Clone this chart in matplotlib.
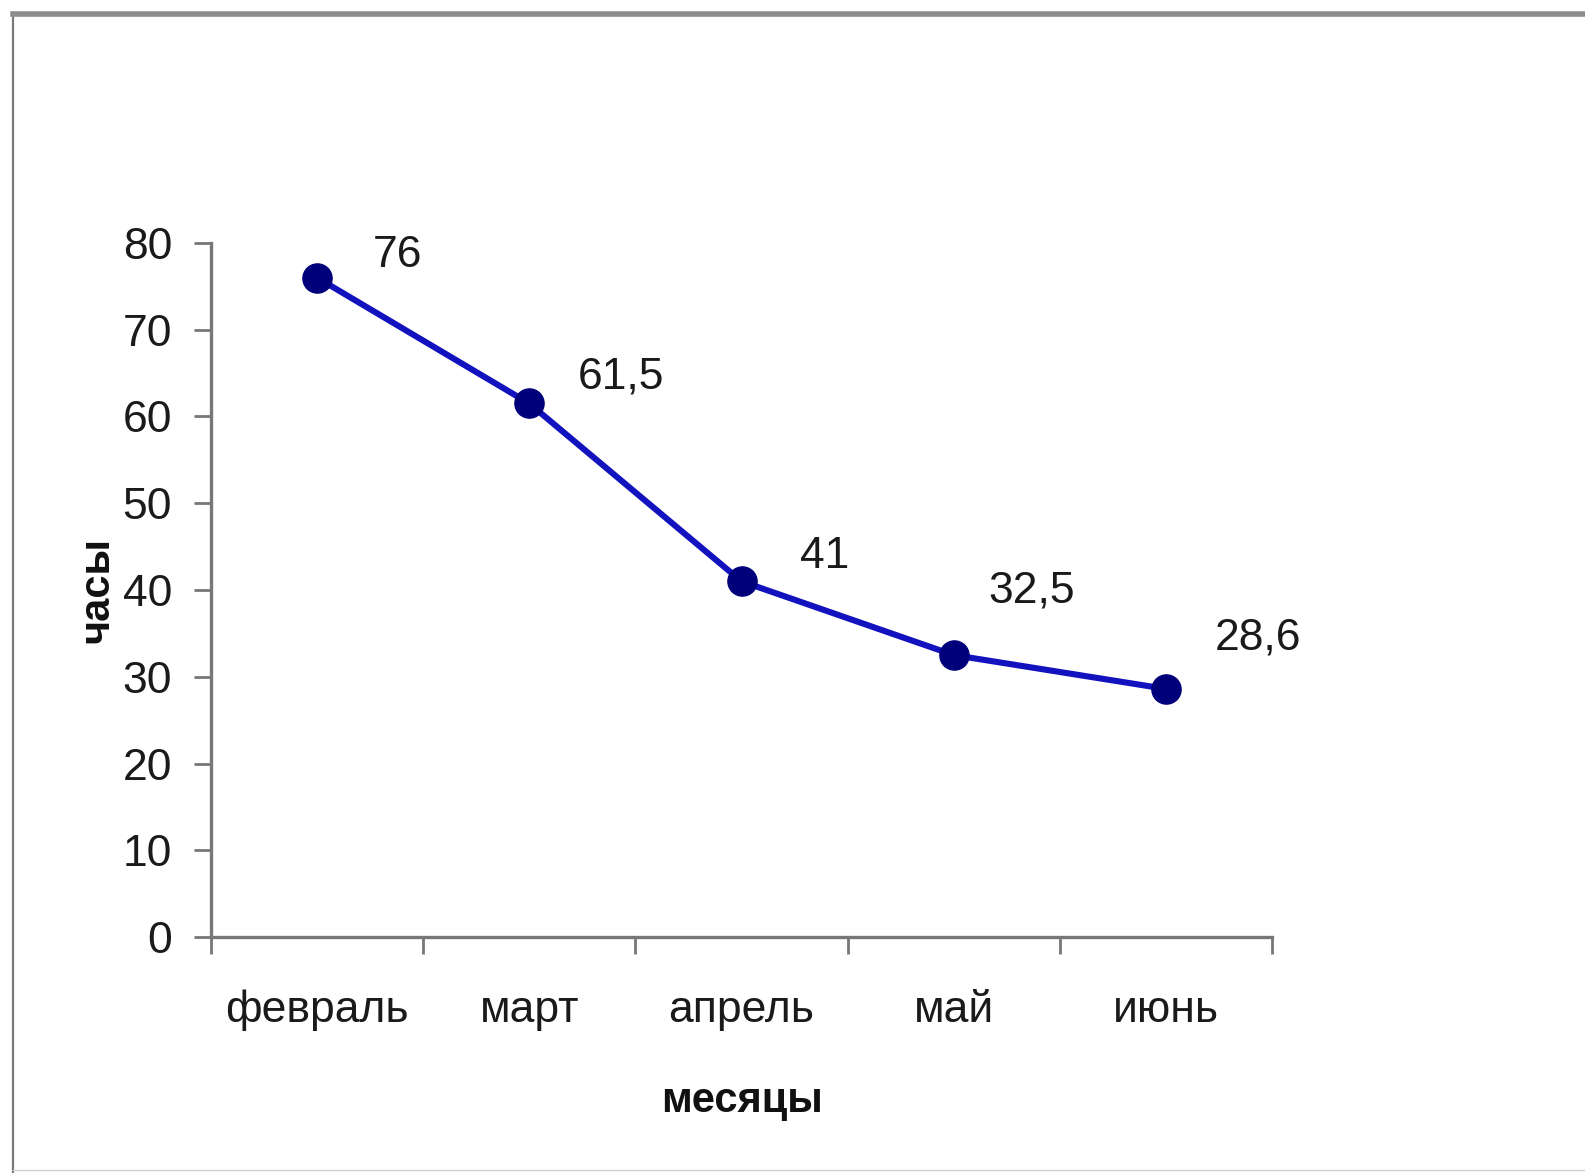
import matplotlib
matplotlib.use("Agg")
import matplotlib.pyplot as plt
from matplotlib.lines import Line2D

months = ["февраль", "март", "апрель", "май", "июнь"]
hours = [76, 61.5, 41, 32.5, 28.6]
hour_labels = ["76", "61,5", "41", "32,5", "28,6"]
y_ticks = [0, 10, 20, 30, 40, 50, 60, 70, 80]

# label offsets in points (dx, dy) from each marker
label_offsets = [(40, 16), (35, 19), (42, 18), (25, 46), (35, 37)]

plt.rcParams["font.family"] = ["Liberation Sans", "DejaVu Sans"]

W, H = 1585, 1173
fig = plt.figure(figsize=(W / 100, H / 100), dpi=100)
fig.patch.set_facecolor("white")

# slide frame
fig.add_artist(Line2D([13 / W, 13 / W], [0, 1 - 14 / H], transform=fig.transFigure,
                      color="#7a7a7a", lw=1.6))
fig.add_artist(Line2D([13 / W, 1], [1 - 14 / H, 1 - 14 / H], transform=fig.transFigure,
                      color="#8c8c8c", lw=4.0))
fig.add_artist(Line2D([13 / W, 1], [3 / H, 3 / H], transform=fig.transFigure,
                      color="#cfcfcf", lw=1.0))

ax = fig.add_axes([211 / W, 236 / H, 1061 / W, 694 / H])
x = list(range(len(months)))
ax.plot(x, hours, color="#1212bf", lw=4.4, zorder=3)
ax.plot(x, hours, "o", color="#00007a", ms=21, zorder=4)

for xi, yi, lab, (dx, dy) in zip(x, hours, hour_labels, label_offsets):
    ax.annotate(lab, (xi, yi), xytext=(dx, dy), textcoords="offset points",
                fontsize=32, color="#1a1a1a", ha="left", va="center")

ax.set_xlim(-0.5, len(months) - 0.5)
ax.set_ylim(0, 80)
ax.set_yticks(y_ticks)
ax.set_yticklabels([str(v) for v in y_ticks], fontsize=32, color="#1a1a1a")

ax.set_xticks([i - 0.5 for i in range(len(months) + 1)])
ax.set_xticklabels([])
ax.set_xticks(x, minor=True)
ax.set_xticklabels(months, minor=True, fontsize=32, color="#1a1a1a")
ax.tick_params(axis="x", which="minor", length=0, pad=38)
ax.tick_params(axis="x", which="major", length=12, width=2, color="#777777", direction="out")
ax.tick_params(axis="y", length=12, width=2, color="#777777", direction="out", pad=16)

for side in ("top", "right"):
    ax.spines[side].set_visible(False)
for side in ("left", "bottom"):
    ax.spines[side].set_color("#777777")
    ax.spines[side].set_linewidth(2.4)

ax.set_xlabel("месяцы", fontsize=30, fontweight="bold", labelpad=36, color="#111111")
ax.set_ylabel("часы", fontsize=30, fontweight="bold", labelpad=4, color="#111111")

fig.savefig("out.png", dpi=100)
